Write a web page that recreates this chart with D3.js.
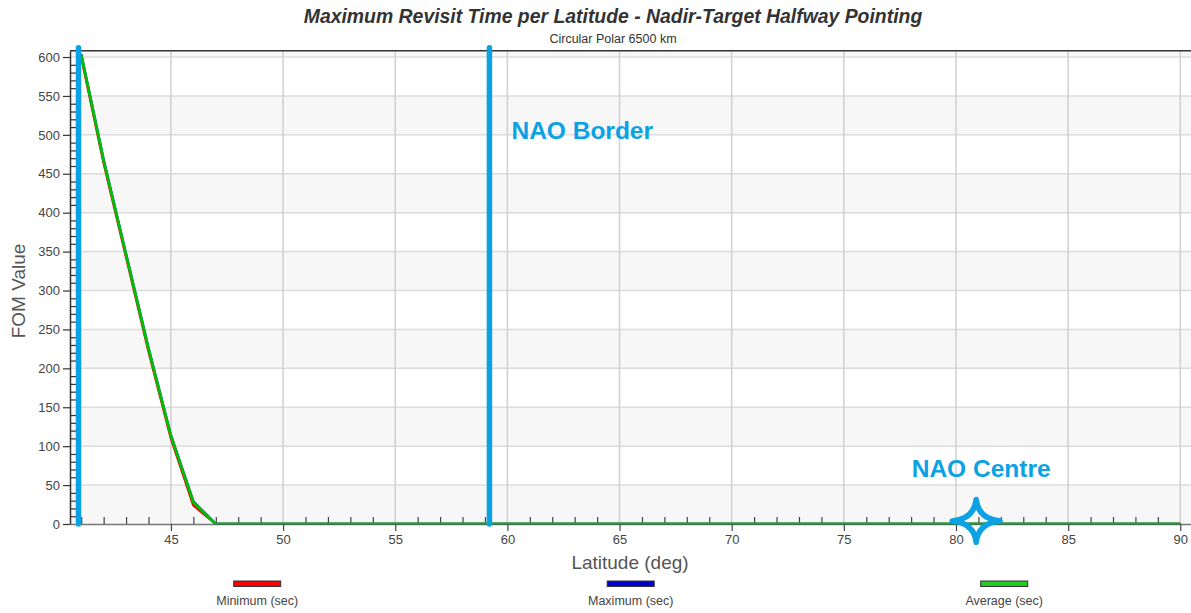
<!DOCTYPE html>
<html>
<head>
<meta charset="utf-8">
<script src="https://cdn.jsdelivr.net/npm/d3@7/dist/d3.min.js"></script>
<style>
  body { margin: 0; background: #fff; }
  svg text { font-family: "Liberation Sans", Arial, sans-serif; }
</style>
</head>
<body>
<script>
'use strict';

// latitude (deg) sampled every degree
const latitudes = [41, 42, 43, 44, 45, 46, 47, 48, 49, 50,
  51, 52, 53, 54, 55, 56, 57, 58, 59, 60,
  61, 62, 63, 64, 65, 66, 67, 68, 69, 70,
  71, 72, 73, 74, 75, 76, 77, 78, 79, 80,
  81, 82, 83, 84, 85, 86, 87, 88, 89, 90];

const minimumSec = [600, 464, 343, 222, 110, 24, 0, 0, 0, 0,
  0, 0, 0, 0, 0, 0, 0, 0, 0, 0,
  0, 0, 0, 0, 0, 0, 0, 0, 0, 0,
  0, 0, 0, 0, 0, 0, 0, 0, 0, 0,
  0, 0, 0, 0, 0, 0, 0, 0, 0, 0];

const maximumSec = [604, 468, 347, 226, 114, 29, 0, 0, 0, 0,
  0, 0, 0, 0, 0, 0, 0, 0, 0, 0,
  0, 0, 0, 0, 0, 0, 0, 0, 0, 0,
  0, 0, 0, 0, 0, 0, 0, 0, 0, 0,
  0, 0, 0, 0, 0, 0, 0, 0, 0, 0];

const averageSec = [603, 467, 346, 225, 113, 28, 0, 0, 0, 0,
  0, 0, 0, 0, 0, 0, 0, 0, 0, 0,
  0, 0, 0, 0, 0, 0, 0, 0, 0, 0,
  0, 0, 0, 0, 0, 0, 0, 0, 0, 0,
  0, 0, 0, 0, 0, 0, 0, 0, 0, 0];

const seriesNames = ['Minimum (sec)', 'Maximum (sec)', 'Average (sec)'];

const yTicks = [0, 50, 100, 150, 200, 250, 300, 350, 400, 450, 500, 550, 600];
const xTicks = [45, 50, 55, 60, 65, 70, 75, 80, 85, 90];

// annotations: vertical NAO lines (latitude) and the NAO centre point
const naoLineLats = [40.88, 59.2];
const naoCentre = { lat: 80.9, value: 4 };

(function() {

  const colors = {
    'Minimum (sec)': '#ff0000',
    'Maximum (sec)': '#0000cc',
    'Average (sec)': '#22cc22'
  };
  const lineColors = {
    'Minimum (sec)': '#ff0000',
    'Maximum (sec)': '#2020ff',
    'Average (sec)': '#00c000'
  };
  const naoBlue = '#0ba2e3';

  let svgContainer = '';

  window.onload = function() {
    svgContainer = d3.select('body')
      .append('svg')
      .attr('width', 1191)
      .attr('height', 613);

    let map = makeScales();
    drawGrid(map);
    drawTicks(map);
    plotData(map);
    drawAnnotations(map);
    makeLabels();
    makeLegend();
  }

  function makeScales() {
    let xScale = d3.scaleLinear()
      .domain([40.5, 90.5])
      .range([70, 1191.5]);

    let yScale = d3.scaleLinear()
      .domain([0, 608])
      .range([524, 50.8]);

    return { xScale: xScale, yScale: yScale };
  }

  function drawGrid(map) {
    let xScale = map.xScale, yScale = map.yScale;
    // alternating background bands
    let bands = yTicks.filter((d, i) => i % 2 === 0);
    svgContainer.append('g').selectAll('rect')
      .data(bands)
      .enter()
      .append('rect')
        .attr('x', xScale(40.5))
        .attr('width', xScale(90.5) - xScale(40.5))
        .attr('y', d => yScale(Math.min(d + 50, 608)))
        .attr('height', d => yScale(d) - yScale(Math.min(d + 50, 608)))
        .attr('fill', '#f7f7f7');

    svgContainer.append('g').selectAll('line')
      .data(yTicks.slice(1))
      .enter()
      .append('line')
        .attr('x1', xScale(40.5))
        .attr('x2', xScale(90.5))
        .attr('y1', d => yScale(d))
        .attr('y2', d => yScale(d))
        .attr('stroke', '#dcdcdc')
        .attr('stroke-width', 1.5);

    svgContainer.append('g').selectAll('line')
      .data(xTicks)
      .enter()
      .append('line')
        .attr('x1', d => xScale(d))
        .attr('x2', d => xScale(d))
        .attr('y1', yScale(608))
        .attr('y2', yScale(0))
        .attr('stroke', '#d0d0d0')
        .attr('stroke-width', 1.5);

    svgContainer.append('clipPath')
      .attr('id', 'plot-clip')
      .append('rect')
        .attr('x', xScale(40.5))
        .attr('y', yScale(608))
        .attr('width', xScale(90.5) - xScale(40.5))
        .attr('height', yScale(0) - yScale(608) + 0.4);
  }

  // draw the axes and ticks
  function drawTicks(map) {
    let xScale = map.xScale, yScale = map.yScale;

    // top border
    svgContainer.append('line')
      .attr('x1', xScale(40.5))
      .attr('x2', xScale(90.5))
      .attr('y1', yScale(608))
      .attr('y2', yScale(608))
      .attr('stroke', '#333')
      .attr('stroke-width', 1.5);

    // x axis, major ticks down, minor ticks up
    let xAxis = d3.axisBottom(xScale)
      .tickValues(xTicks)
      .tickSize(7)
      .tickSizeOuter(0)
      .tickPadding(4);
    let gx = svgContainer.append('g')
      .attr('transform', 'translate(0, ' + yScale(0) + ')')
      .call(xAxis);
    gx.select('.domain').attr('stroke', '#777').attr('stroke-width', 1.5);
    gx.selectAll('.tick line').attr('stroke', '#444').attr('stroke-width', 1.2);
    gx.selectAll('.tick text')
      .style('font-size', '13px')
      .attr('fill', '#444');

    let xMinor = d3.range(41, 91).filter(d => d % 5 !== 0);
    let gxm = svgContainer.append('g')
      .attr('transform', 'translate(0, ' + yScale(0) + ')')
      .call(d3.axisTop(xScale).tickValues(xMinor).tickSize(7).tickFormat(''));
    gxm.select('.domain').remove();
    gxm.selectAll('.tick line').attr('stroke', '#444').attr('stroke-width', 1.2);

    // y axis, major ticks out, minor ticks in
    let yAxis = d3.axisLeft(yScale)
      .tickValues(yTicks)
      .tickSize(7)
      .tickSizeOuter(0)
      .tickPadding(3);
    let gy = svgContainer.append('g')
      .attr('transform', 'translate(' + xScale(40.5) + ', 0)')
      .call(yAxis);
    gy.select('.domain').attr('stroke', '#333').attr('stroke-width', 1.5);
    gy.selectAll('.tick line').attr('stroke', '#333').attr('stroke-width', 1.2);
    gy.selectAll('.tick text')
      .style('font-size', '13px')
      .attr('fill', '#444');

    let yMinor = d3.range(10, 608, 10).filter(d => d % 50 !== 0);
    let gym = svgContainer.append('g')
      .attr('transform', 'translate(' + xScale(40.5) + ', 0)')
      .call(d3.axisRight(yScale).tickValues(yMinor).tickSize(6).tickFormat(''));
    gym.select('.domain').remove();
    gym.selectAll('.tick line').attr('stroke', '#333').attr('stroke-width', 1.2);
  }

  // plot the three FOM series
  function plotData(map) {
    let series = [minimumSec, maximumSec, averageSec];
    let line = d3.line()
      .x((d, i) => map.xScale(latitudes[i]))
      .y(d => map.yScale(d));

    let g = svgContainer.append('g').attr('clip-path', 'url(#plot-clip)');
    series.forEach(function(values, i) {
      g.append('path')
        .datum(values)
        .attr('d', line)
        .attr('fill', 'none')
        .attr('stroke', lineColors[seriesNames[i]])
        .attr('stroke-width', i === 2 ? 2.8 : 2.5)
        .attr('stroke-linejoin', 'round');
    });
  }

  function drawAnnotations(map) {
    svgContainer.append('g').selectAll('line')
      .data(naoLineLats)
      .enter()
      .append('line')
        .attr('x1', d => map.xScale(d))
        .attr('x2', d => map.xScale(d))
        .attr('y1', map.yScale(0))
        .attr('y2', map.yScale(612))
        .attr('stroke', naoBlue)
        .attr('stroke-width', 5.5)
        .attr('stroke-linecap', 'round');

    svgContainer.append('text')
      .attr('x', map.xScale(naoLineLats[1]) + 22)
      .attr('y', map.yScale(495))
      .style('font-size', '24.5px')
      .style('font-weight', 'bold')
      .attr('fill', naoBlue)
      .text('NAO Border');

    // four-pointed star at the NAO centre
    let cx = map.xScale(naoCentre.lat);
    let cy = map.yScale(naoCentre.value);
    let rx = 24, ry = 21.5, k = 2;
    let p = d3.path();
    p.moveTo(cx + rx, cy);
    p.quadraticCurveTo(cx + k, cy - k, cx, cy - ry);
    p.quadraticCurveTo(cx - k, cy - k, cx - rx, cy);
    p.quadraticCurveTo(cx - k, cy + k, cx, cy + ry);
    p.quadraticCurveTo(cx + k, cy + k, cx + rx, cy);
    p.closePath();
    svgContainer.append('path')
      .attr('d', p.toString())
      .attr('fill', 'none')
      .attr('stroke', naoBlue)
      .attr('stroke-width', 5.5)
      .attr('stroke-linejoin', 'round');

    svgContainer.append('text')
      .attr('x', cx + 5)
      .attr('y', map.yScale(61))
      .attr('text-anchor', 'middle')
      .style('font-size', '24.5px')
      .style('font-weight', 'bold')
      .attr('fill', naoBlue)
      .text('NAO Centre');
  }

  function makeLabels() {
    svgContainer.append('text')
      .attr('x', 613)
      .attr('y', 23)
      .attr('text-anchor', 'middle')
      .style('font-size', '19.4px')
      .style('font-weight', 'bold')
      .style('font-style', 'italic')
      .attr('fill', '#333')
      .text('Maximum Revisit Time per Latitude - Nadir-Target Halfway Pointing');

    svgContainer.append('text')
      .attr('x', 613)
      .attr('y', 42.5)
      .attr('text-anchor', 'middle')
      .style('font-size', '12.5px')
      .attr('fill', '#333')
      .text('Circular Polar 6500 km');

    svgContainer.append('text')
      .attr('x', 630)
      .attr('y', 569)
      .attr('text-anchor', 'middle')
      .style('font-size', '19px')
      .attr('fill', '#555')
      .text('Latitude (deg)');

    svgContainer.append('text')
      .attr('transform', 'translate(25, 291)rotate(-90)')
      .attr('text-anchor', 'middle')
      .style('font-size', '19px')
      .attr('fill', '#555')
      .text('FOM Value');
  }

  function makeLegend() {
    for (let i = 0; i < seriesNames.length; i++) {
      let cx = 630.7 + (i - 1) * 373.5;
      svgContainer.append('rect')
        .attr('x', cx - 23.5)
        .attr('y', 581)
        .attr('width', 47)
        .attr('height', 5.5)
        .attr('fill', colors[seriesNames[i]])
        .attr('stroke', '#333')
        .attr('stroke-width', 1);
      svgContainer.append('text')
        .attr('x', cx)
        .attr('y', 605)
        .attr('text-anchor', 'middle')
        .style('font-size', '12.5px')
        .attr('fill', '#444')
        .text(seriesNames[i]);
    }
  }
})();
</script>
</body>
</html>
